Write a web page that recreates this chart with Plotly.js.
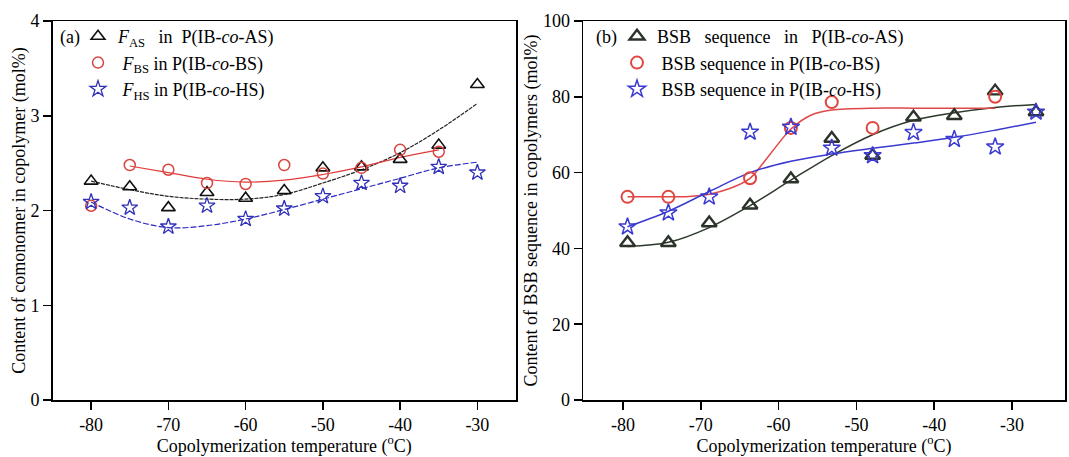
<!DOCTYPE html>
<html><head><meta charset="utf-8">
<script src="https://cdn.plot.ly/plotly-3.0.1.min.js"></script>
<style>html,body{margin:0;padding:0;background:#fff}#chart{width:1069px;height:457px}</style>
</head><body><div id="chart"></div>
<script>
// ---------- data ----------
const temps = [-80, -75, -70, -65, -60, -55, -50, -45, -40, -35, -30];
const tickTemps = [-80, -70, -60, -50, -40, -30];
const tickLabels = ['-80', '-70', '-60', '-50', '-40', '-30'];

// panel (a): comonomer content (mol%)
const fAS = [2.31, 2.25, 2.03, 2.19, 2.13, 2.21, 2.45, 2.46, 2.54, 2.69, 3.33];
const tempsBSa = [-80, -75, -70, -65, -60, -55, -50, -45, -40, -35];
const fBS = [2.05, 2.48, 2.43, 2.29, 2.28, 2.48, 2.39, 2.45, 2.64, 2.62];
const fHS = [2.09, 2.03, 1.83, 2.05, 1.91, 2.02, 2.15, 2.29, 2.26, 2.46, 2.40];
const fitASa = [2.31, 2.22, 2.15, 2.12, 2.12, 2.17, 2.29, 2.43, 2.61, 2.85, 3.13];
const fitBSaT = [-75, -70, -65, -60, -55, -50, -45, -40, -35];
const fitBSa = [2.47, 2.40, 2.33, 2.30, 2.32, 2.38, 2.46, 2.56, 2.64];
const fitHSa = [2.09, 1.91, 1.82, 1.84, 1.91, 2.01, 2.12, 2.23, 2.34, 2.45, 2.51];

// panel (b): BSB sequence content (mol%)
const bsbAS = [41.5, 41.5, 46.7, 51.4, 58.3, 69.0, 64.5, 74.6, 75.0, 81.5, 76.0];
const tempsBSb = [-80, -75, -65, -60, -55, -50, -35];
const bsbBS = [53.6, 53.6, 58.5, 71.8, 78.6, 71.8, 80.0];
const bsbHS = [45.7, 49.4, 53.6, 70.7, 72.0, 66.5, 64.5, 70.6, 68.8, 66.8, 76.0];
const fitASb = [40.5, 41.6, 45.5, 51.3, 58.0, 64.5, 70.0, 73.8, 75.8, 77.2, 78.0];
const fitBSbT = [-80, -75, -72.5, -70, -67.5, -65, -62.5, -60, -57.5, -55, -50, -45, -40, -35];
const fitBSb = [53.6, 53.6, 53.7, 54.3, 55.8, 58.5, 65.0, 71.5, 75.2, 76.5, 77.0, 77.0, 77.0, 77.0];
const fitHSb = [45.7, 49.8, 55.0, 60.0, 63.0, 64.9, 66.4, 67.8, 69.3, 71.2, 73.3];

// ---------- style ----------
const FONT = 'Liberation Serif, Times New Roman, serif';
const S = '\u00A0';
const W = 1069, H = 457, MT = 21, MB = 57;
const PH = H - MT - MB;
const py = (pix) => 1 - (pix - MT) / PH;   // figure pixel row -> paper y

const traces = [
  // panel (a) fits
  {x: temps, y: fitASa, mode: 'lines', line: {color: '#222', width: 1.2, shape: 'spline', dash: '4px,1px'}, showlegend: false, hoverinfo: 'skip', xaxis: 'x', yaxis: 'y'},
  {x: fitBSaT, y: fitBSa, mode: 'lines', line: {color: '#e03a3a', width: 1.2, shape: 'spline'}, showlegend: false, hoverinfo: 'skip', xaxis: 'x', yaxis: 'y'},
  {x: temps, y: fitHSa, mode: 'lines', line: {color: '#2828c0', width: 1.2, shape: 'spline', dash: '6px,2px'}, showlegend: false, hoverinfo: 'skip', xaxis: 'x', yaxis: 'y'},
  // panel (a) points
  {x: temps, y: fAS, mode: 'markers', name: '<i>F</i><sub>AS</sub>' + S + S + ' in' + S + ' P(IB-<i>co</i>-AS)',
   marker: {symbol: 'triangle-up-open', size: 12, color: '#111', line: {width: 1.6}}, xaxis: 'x', yaxis: 'y', legend: 'legend'},
  {x: tempsBSa, y: fBS, mode: 'markers', name: S + '<i>F</i><sub>BS</sub> in P(IB-<i>co</i>-BS)',
   marker: {symbol: 'circle-open', size: 11, color: '#d9453f', line: {width: 1.5}}, xaxis: 'x', yaxis: 'y', legend: 'legend'},
  {x: temps, y: fHS, mode: 'markers', name: S + '<i>F</i><sub>HS</sub> in P(IB-<i>co</i>-HS)',
   marker: {symbol: 'star-open', size: 12, color: '#3030b8', line: {width: 1.3}}, xaxis: 'x', yaxis: 'y', legend: 'legend'},
  // panel (b) fits
  {x: temps, y: fitASb, mode: 'lines', line: {color: '#2c3a2c', width: 1.5, shape: 'spline'}, showlegend: false, hoverinfo: 'skip', xaxis: 'x2', yaxis: 'y2'},
  {x: fitBSbT, y: fitBSb, mode: 'lines', line: {color: '#e04848', width: 1.5, shape: 'spline', smoothing: 0.8}, showlegend: false, hoverinfo: 'skip', xaxis: 'x2', yaxis: 'y2'},
  {x: temps, y: fitHSb, mode: 'lines', line: {color: '#3a3ad0', width: 1.5, shape: 'spline'}, showlegend: false, hoverinfo: 'skip', xaxis: 'x2', yaxis: 'y2'},
  // panel (b) points
  {x: temps, y: bsbAS, mode: 'markers', name: 'BSB' + S + S + ' sequence' + S + S + ' in' + S + S + ' P(IB-<i>co</i>-AS)',
   marker: {symbol: 'triangle-up-open', size: 13, color: '#2b332b', line: {width: 2.4}}, xaxis: 'x2', yaxis: 'y2', legend: 'legend2'},
  {x: tempsBSb, y: bsbBS, mode: 'markers', name: S + 'BSB sequence in P(IB-<i>co</i>-BS)',
   marker: {symbol: 'circle-open', size: 12, color: '#e0463f', line: {width: 2}}, xaxis: 'x2', yaxis: 'y2', legend: 'legend2'},
  {x: temps, y: bsbHS, mode: 'markers', name: S + 'BSB sequence in P(IB-<i>co</i>-HS)',
   marker: {symbol: 'star-open', size: 13, color: '#3a3ad0', line: {width: 1.5}}, xaxis: 'x2', yaxis: 'y2', legend: 'legend2'},
  // empty trace that registers the printed temperature axis of panel (b)
  {x: [], y: [], mode: 'markers', showlegend: false, hoverinfo: 'skip', xaxis: 'x3', yaxis: 'y2'}
];

const axisCommon = {
  showline: true, mirror: true, linecolor: '#000', linewidth: 1.5,
  ticks: 'outside', ticklen: 8, tickwidth: 1.5, tickcolor: '#000',
  showgrid: false, zeroline: false,
  tickfont: {family: FONT, size: 18, color: '#000'}
};
const xTitle = {text: 'Copolymerization temperature (<sup>o</sup>C)', font: {family: FONT, size: 18, color: '#000'}, standoff: 4};
const legendCommon = {xanchor: 'left', yanchor: 'top', bgcolor: 'rgba(0,0,0,0)',
  font: {family: FONT, size: 18, color: '#000'}, itemwidth: 30, tracegroupgap: 0};

const layout = {
  width: W, height: H,
  margin: {l: 0, r: 0, t: MT, b: MB},
  paper_bgcolor: '#fff', plot_bgcolor: '#fff',
  font: {family: FONT, size: 18, color: '#000'},
  xaxis: Object.assign({}, axisCommon, {domain: [52.5 / W, 516 / W], range: [-85, -25], tickvals: tickTemps, ticktext: tickLabels, anchor: 'y', title: xTitle}),
  yaxis: Object.assign({}, axisCommon, {domain: [0, 1], range: [0, 4], dtick: 1, anchor: 'x',
    title: {text: 'Content of comonomer in copolymer (mol%)', font: {family: FONT, size: 18, color: '#000'}, standoff: 0}}),
  // data scale of panel (b)
  xaxis2: {domain: [583 / W, 1065 / W], range: [-85.45, -26.45], anchor: 'y2', visible: false, showgrid: false, zeroline: false},
  // printed temperature axis of panel (b)
  xaxis3: Object.assign({}, axisCommon, {domain: [583 / W, 1065 / W], range: [-85.14, -23.19], tickvals: tickTemps, ticktext: tickLabels,
    overlaying: 'x2', anchor: 'y2', title: xTitle}),
  yaxis2: Object.assign({}, axisCommon, {domain: [0, 1], range: [0, 100], dtick: 20, anchor: 'x2',
    title: {text: 'Content of BSB sequence in copolymers (mol%)', font: {family: FONT, size: 18, color: '#000'}, standoff: 0}}),
  legend: Object.assign({}, legendCommon, {x: 78 / W, y: py(18)}),
  legend2: Object.assign({}, legendCommon, {x: 617 / W, y: py(18)}),
  annotations: [
    {text: '(a)', xref: 'paper', yref: 'paper', x: 58 / W, y: py(38), xanchor: 'left', yanchor: 'middle', showarrow: false, font: {family: FONT, size: 18, color: '#000'}},
    {text: '(b)', xref: 'paper', yref: 'paper', x: 594 / W, y: py(38), xanchor: 'left', yanchor: 'middle', showarrow: false, font: {family: FONT, size: 18, color: '#000'}}
  ],
  showlegend: true
};

Plotly.newPlot('chart', traces, layout, {displayModeBar: false, staticPlot: true});
</script>
</body></html>
